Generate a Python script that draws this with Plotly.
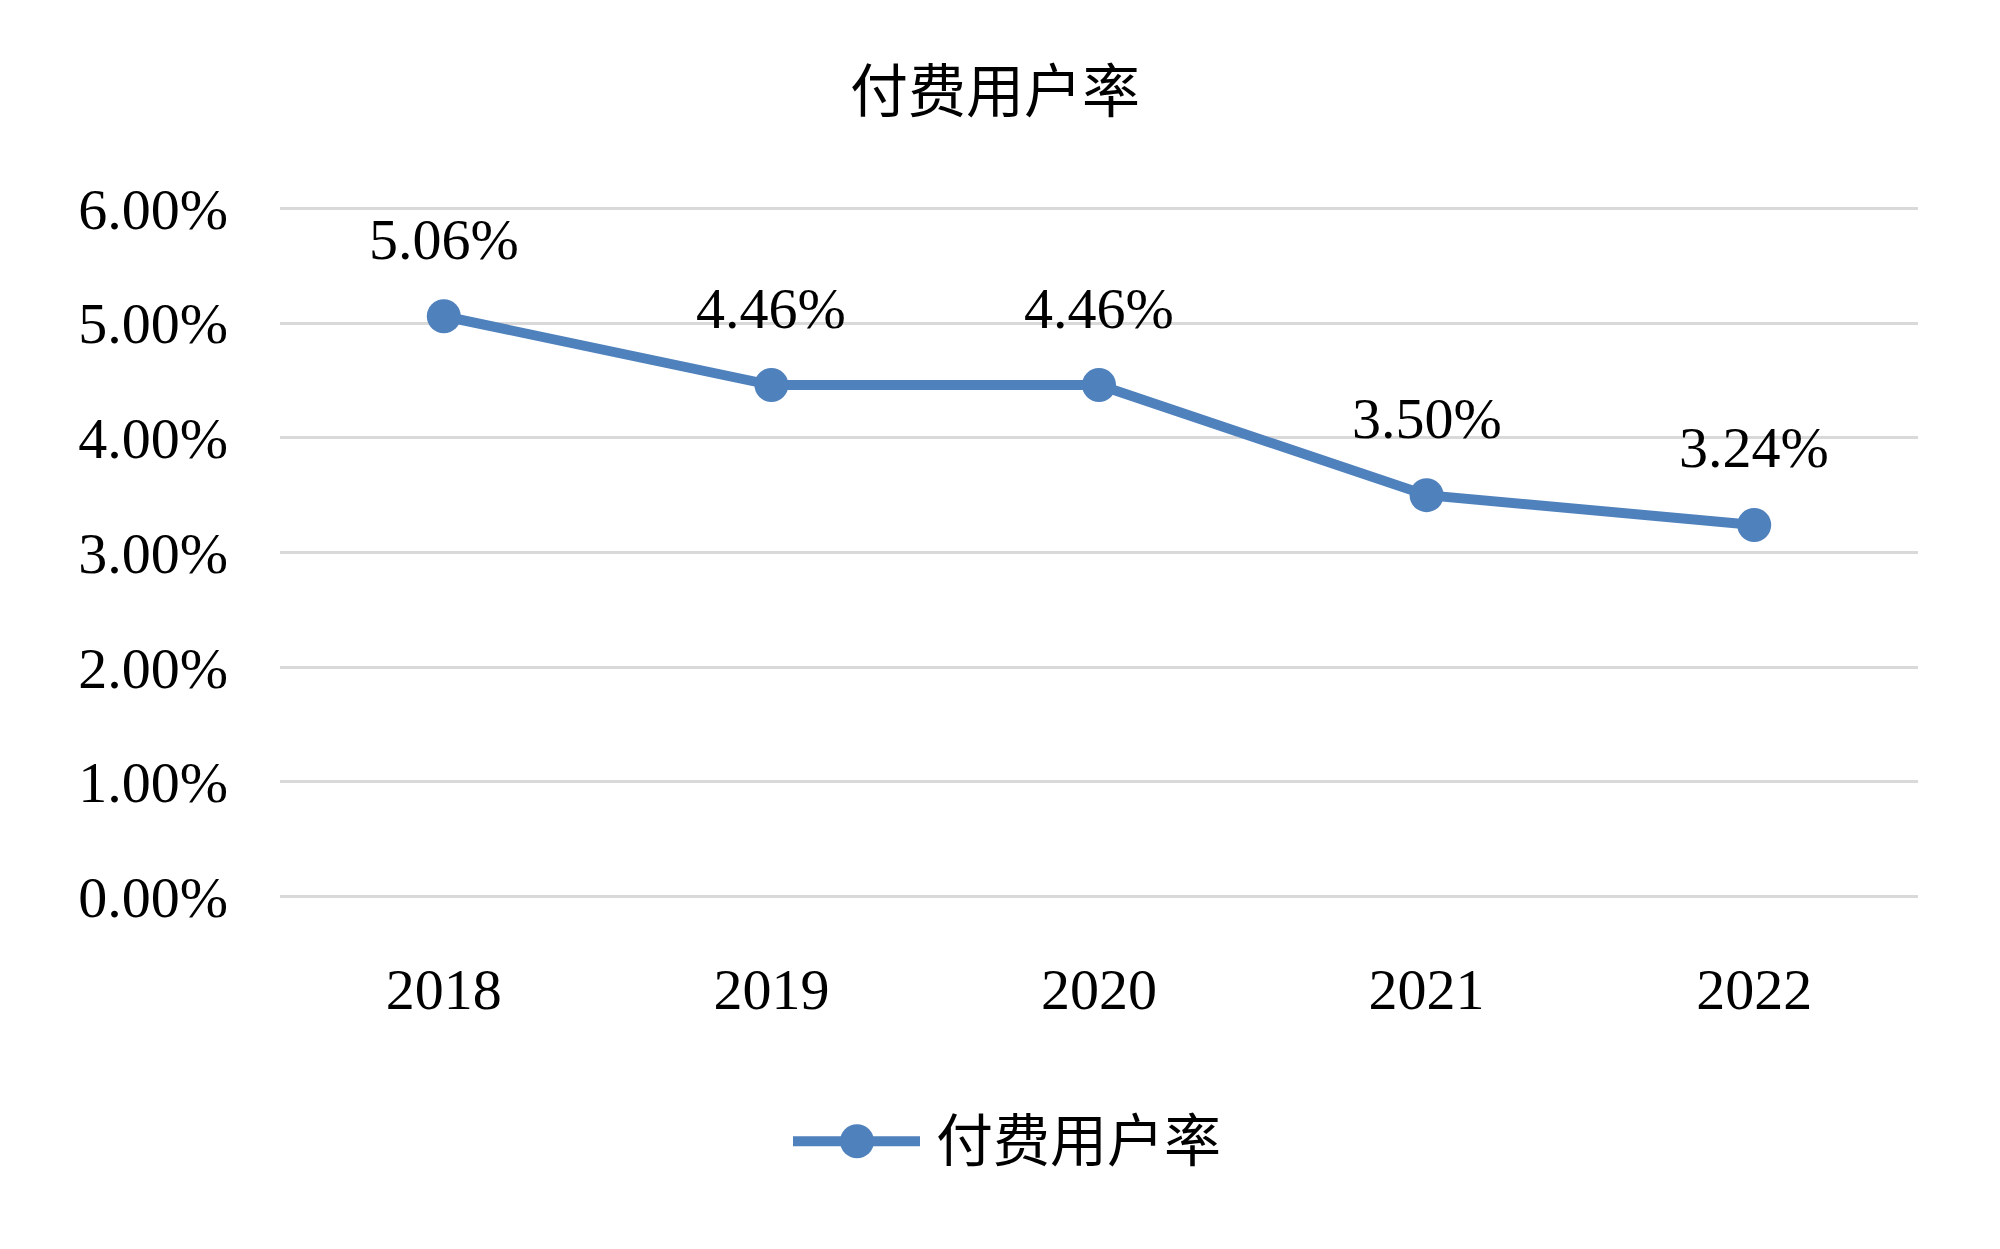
import plotly.graph_objects as go

years = ["2018", "2019", "2020", "2021", "2022"]
paid_rate = [0.0506, 0.0446, 0.0446, 0.0350, 0.0324]
series_name = "付费用户率"
chart_title = "付费用户率"

BLUE = "#4F81BD"
FONT = "Liberation Serif, Times New Roman, Noto Sans CJK SC, serif"

W, H = 2000, 1249
Y_TOP_PX, Y_BOT_PX = 208, 897      # pixel rows of 6% and 0% gridlines
X_LEFT_PX, X_RIGHT_PX = 280, 1918
YMAX = 0.06
PAD = 0.0003                       # keep edge gridlines away from plot border
scale = (Y_BOT_PX - Y_TOP_PX) / YMAX
L, R = X_LEFT_PX, W - X_RIGHT_PX
T = Y_TOP_PX - PAD * scale
B = (H - Y_BOT_PX) - PAD * scale
PW, PH = W - L - R, H - T - B

fig = go.Figure()
fig.add_trace(go.Scatter(
    x=years, y=paid_rate, name=series_name,
    mode="lines+markers",
    line=dict(color=BLUE, width=10),
    marker=dict(color=BLUE, size=34),
    showlegend=False,
))

for i, v in enumerate(paid_rate):
    fig.add_annotation(x=i, y=v, xref="x", yref="y", text=f"{v*100:.2f}%",
                       showarrow=False, yshift=77,
                       font=dict(family=FONT, size=58, color="black"))

# manual legend (long line sample like the reference)
def px2paper_x(px):
    return (px - L) / PW

def px2paper_y(py):
    return (H - B - py) / PH

leg_y = 1142
fig.add_shape(type="line", xref="paper", yref="paper",
              x0=px2paper_x(793), x1=px2paper_x(920), y0=px2paper_y(leg_y), y1=px2paper_y(leg_y),
              line=dict(color=BLUE, width=10))
fig.add_shape(type="circle", xref="paper", yref="paper",
              x0=px2paper_x(857 - 17), x1=px2paper_x(857 + 17),
              y0=px2paper_y(leg_y + 17), y1=px2paper_y(leg_y - 17),
              fillcolor=BLUE, line=dict(color=BLUE, width=0))
fig.add_annotation(x=px2paper_x(934), y=px2paper_y(leg_y), xref="paper", yref="paper",
                   xanchor="left", yanchor="middle", showarrow=False, text=series_name,
                   font=dict(family=FONT, size=57, color="black"))

fig.update_layout(
    width=W, height=H,
    paper_bgcolor="white", plot_bgcolor="white",
    margin=dict(l=L, r=R, t=T, b=B),
    title=dict(text=chart_title, x=995 / W, xref="container", xanchor="center",
               y=1 - 92 / H, yref="container", yanchor="middle",
               font=dict(family=FONT, size=58, color="black")),
    font=dict(family=FONT, size=58, color="black"),
    showlegend=False,
)
fig.update_xaxes(type="category", range=[-0.5, 4.5], showgrid=False, showline=False,
                 zeroline=False, ticks="", ticklabelstandoff=50,
                 tickfont=dict(family=FONT, size=58, color="black"))
fig.update_yaxes(range=[-PAD, YMAX + PAD], tickvals=[0, 0.01, 0.02, 0.03, 0.04, 0.05, 0.06],
                 tickformat=".2%", showgrid=True,
                 gridcolor="#D9D9D9", gridwidth=3, zeroline=False, showline=False,
                 ticks="", ticklabelstandoff=51,
                 tickfont=dict(family=FONT, size=58, color="black"))

fig.write_html("out.html",
               config={"displayModeBar": False},
               post_script="document.body.style.margin='0';document.body.style.overflow='hidden';")
